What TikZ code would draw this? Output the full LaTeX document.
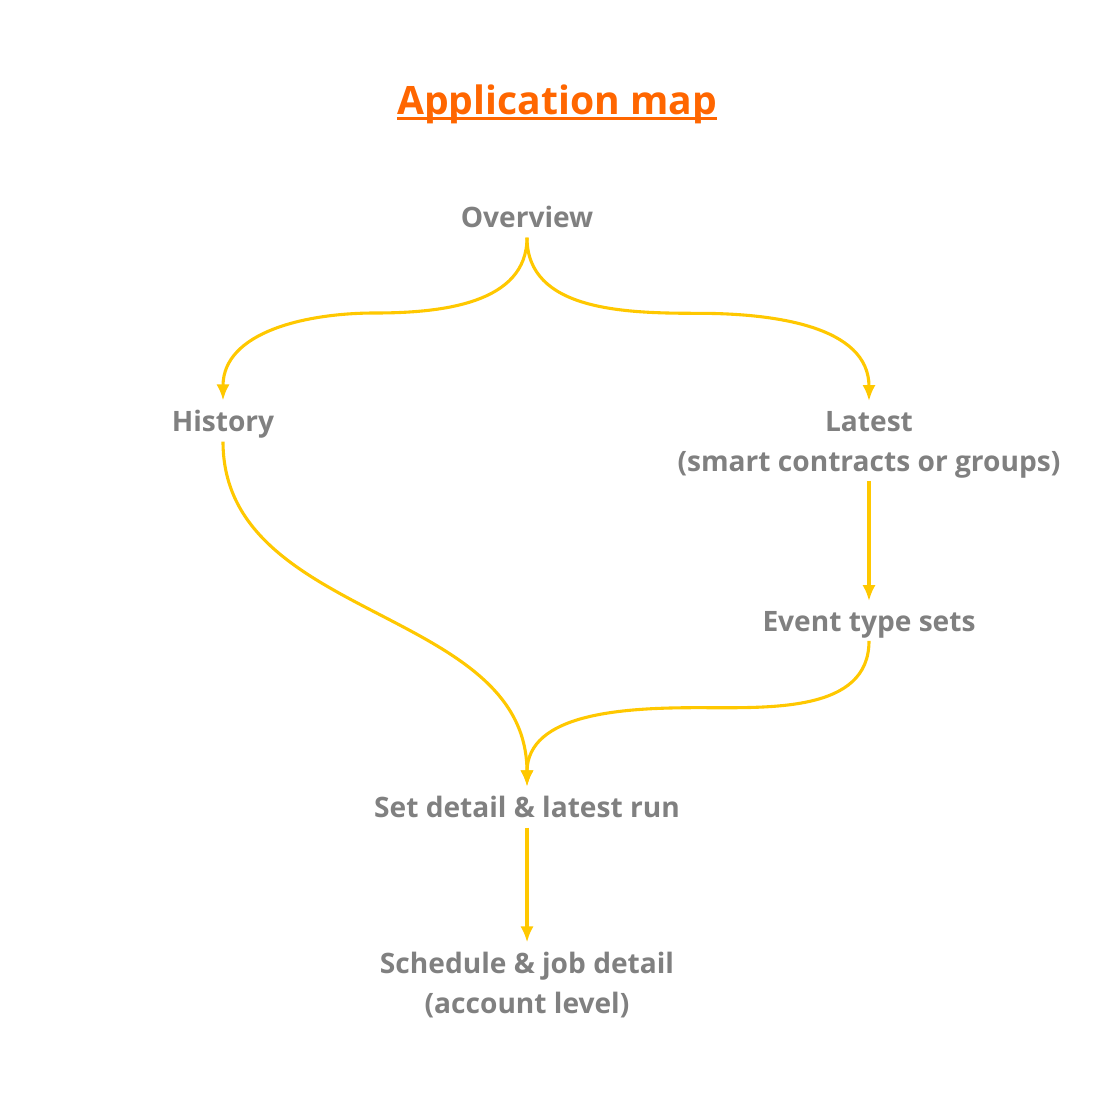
\documentclass[tikz,border=0pt]{standalone}
\usepackage{fontspec}
\setmainfont{Open Sans}
\usepackage{xcolor}
\usetikzlibrary{arrows.meta,positioning,calc}
\definecolor{maptitle}{HTML}{FF6600}
\definecolor{pagegray}{HTML}{808080}
\definecolor{linkgold}{HTML}{FFC800}
\tikzset{
  pagebox/.style  ={align=center,font=\fontsize{20pt}{28.5pt}\selectfont\bfseries,
                     text=pagegray,text depth=0pt,inner sep=0.24cm},
  titlebox/.style ={font=\fontsize{27.8pt}{34pt}\selectfont\bfseries,text=maptitle,inner xsep=0pt},
  flow/.style     ={-{Latex[length=0.4cm,width=0.33cm]},line width=2.2pt,linkgold},
}
\begin{document}
\begin{tikzpicture}
\useasboundingbox (0,0) rectangle (27.85,-27.95);
% ---- title ----
\node[titlebox] (title) at (13.925,-2.6) {Application map};
\draw[maptitle,line width=2.2pt] ([yshift=-0.11cm]title.base west) -- ([yshift=-0.11cm]title.base east);
% ---- pages ----
\node[pagebox] (ov)    at (13.175,-5.425)  {Overview};
\node[pagebox] (hist)  at (5.575,-10.525)  {History};
\node[pagebox] (lat)   at (21.725,-11.025) {Latest\\(smart contracts or groups)};
\node[pagebox] (evt)   at (21.725,-15.525) {Event type sets};
\node[pagebox] (setd)  at (13.175,-20.175) {Set detail \& latest run};
\node[pagebox] (sched) at (13.175,-24.575) {Schedule \& job detail\\(account level)};
% ---- links ----
\draw[flow] (ov.south) to[out=-90,in=0] ($($(ov.south)!.5!(hist.north)$)+(0,0.15)$)
  to[out=180,in=90] (hist.north);
\draw[flow] (ov.south) to[out=-90,in=180] ($($(ov.south)!.5!(lat.north)$)+(0,0.15)$)
  to[out=0,in=90] (lat.north);
\draw[flow] (lat) -- (evt);
\draw[flow] (hist.south) to[out=-90,in=90] (setd.north);
\draw[flow] (evt.south) to[out=-90,in=0] ($($(evt.south)!.5!(setd.north)$)+(0,0.15)$)
  to[out=180,in=90] (setd.north);
\draw[flow] (setd) -- (sched);
\end{tikzpicture}
\end{document}
